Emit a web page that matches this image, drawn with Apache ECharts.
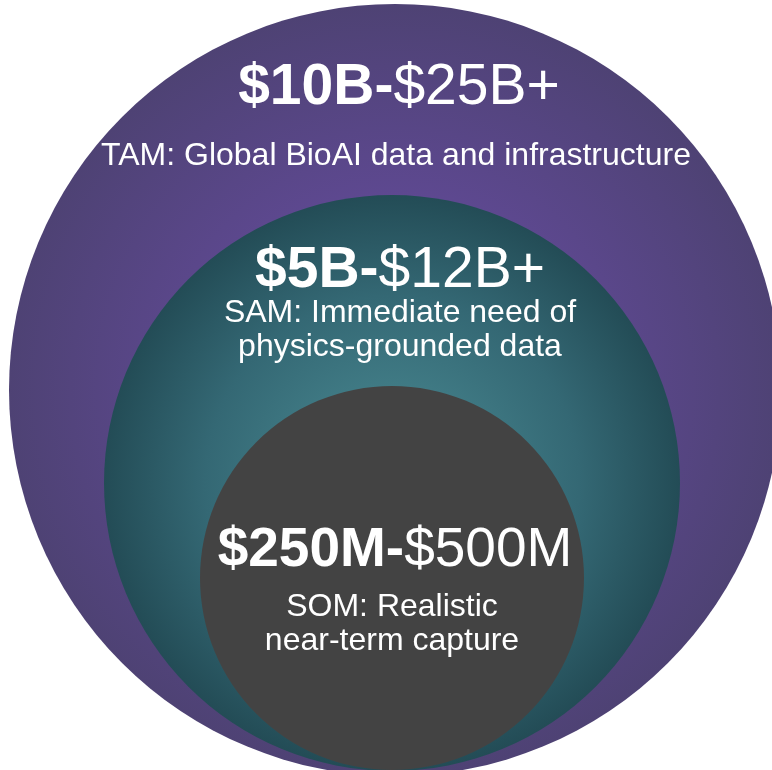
<!DOCTYPE html>
<html lang="en">
<head>
    <meta charset="UTF-8">
    <title>TAM / SAM / SOM</title>
    <script src="https://cdn.jsdelivr.net/npm/echarts@6/dist/echarts.min.js"></script>
    <style>
        html, body { margin: 0; padding: 0; background: #fff; }
        #main { width: 772px; height: 770px; }
    </style>
</head>
<body>
<div id="main"></div>
<script type="text/javascript">
  // market tiers, outer to inner
  var markets = ['TAM', 'SAM', 'SOM'];
  var lowLabels = ['$10B', '$5B', '$250M'];
  var highLabels = ['$25B+', '$12B+', '$500M'];
  var descriptions = [
    ['TAM: Global BioAI data and infrastructure'],
    ['SAM: Immediate need of', 'physics-grounded data'],
    ['SOM: Realistic', 'near-term capture']
  ];

  /* circle layout (px) */
  var centers = [[395, 390], [392, 483], [392, 578]];
  var radii = [386, 288, 192];
  var fills = [
    [[0, '#674ea3'], [0.45, '#5f4993'], [1, '#4e4274']],
    [[0, '#478790'], [0.3, '#417c86'], [0.65, '#346874'], [1, '#234c56']],
    [[0, '#434343'], [1, '#434343']]
  ];
  /* text layout: big number line y, description first line y, x centre */
  var bigY = [88, 271, 551];
  var bigX = [399, 400, 395];
  var bigSize = [57, 57, 55];
  var descY = [156, 313, 607];
  var descX = [396, 400, 392];
  var lineGap = 34;

  var font = '"Liberation Sans", Arial, sans-serif';
  var myChart = echarts.init(document.getElementById('main'));

  var series = [];
  var graphic = [];
  for (var i = 0; i < markets.length; i++) {
    series.push({
      type: 'pie',
      silent: true,
      center: centers[i],
      radius: [0, radii[i]],
      label: {show: false},
      labelLine: {show: false},
      emphasis: {disabled: true},
      itemStyle: {
        borderWidth: 0,
        color: new echarts.graphic.RadialGradient(0.5, 0.5, 0.5,
          fills[i].map(function (s) { return {offset: s[0], color: s[1]}; }))
      },
      data: [{name: markets[i], value: 1}]
    });

    graphic.push({
      type: 'text',
      x: bigX[i],
      y: bigY[i],
      z: 10,
      style: {
        text: '{b|' + lowLabels[i] + '-}{r|' + highLabels[i] + '}',
        align: 'center',
        verticalAlign: 'middle',
        rich: {
          b: {fontFamily: font, fontSize: bigSize[i], fontWeight: 'bold', fill: '#fff'},
          r: {fontFamily: font, fontSize: bigSize[i], fontWeight: 'normal', fill: '#fff'}
        }
      }
    });

    for (var j = 0; j < descriptions[i].length; j++) {
      graphic.push({
        type: 'text',
        x: descX[i],
        y: descY[i] + j * lineGap,
        z: 10,
        style: {
          text: descriptions[i][j],
          font: '32px ' + font,
          fill: '#fff',
          align: 'center',
          verticalAlign: 'middle'
        }
      });
    }
  }

  var option = {
    backgroundColor: '#fff',
    animation: false,
    series: series,
    graphic: graphic
  };
  myChart.setOption(option);

  window.addEventListener("resize", function () {
    myChart.resize();
  });
</script>
</body>
</html>
